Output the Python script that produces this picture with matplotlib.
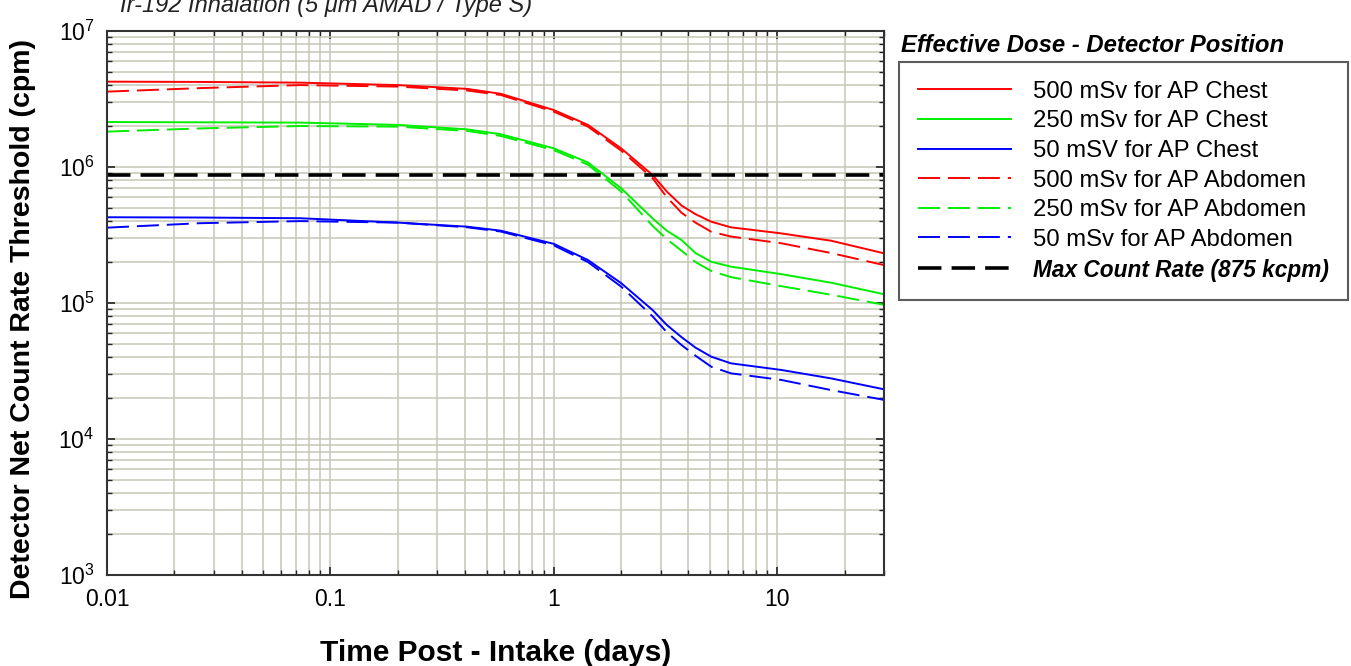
import matplotlib
matplotlib.use("Agg")
import matplotlib.pyplot as plt
from matplotlib.ticker import NullFormatter

plt.rcParams['font.family'] = ['Liberation Sans', 'DejaVu Sans']

# time post-intake (days)
days = [0.01, 0.026, 0.073, 0.2, 0.41, 0.58, 1.0, 1.42, 2.0, 2.76, 3.2, 3.73, 4.3,
        5.06, 6.2, 10.4, 17.4, 30]

# count rate thresholds (cpm)
chest_500 = [4.24e6, 4.22e6, 4.17e6, 4.0e6, 3.75e6, 3.45e6, 2.62e6, 2.04e6, 1.37e6,
             8.75e5, 6.6e5, 5.2e5, 4.5e5, 3.96e5, 3.6e5, 3.25e5, 2.87e5, 2.32e5]
chest_250 = [2.14e6, 2.13e6, 2.12e6, 2.04e6, 1.89e6, 1.74e6, 1.37e6, 1.08e6, 6.97e5,
             4.2e5, 3.4e5, 2.9e5, 2.33e5, 2.01e5, 1.85e5, 1.63e5, 1.41e5, 1.16e5]
chest_50 = [4.27e5, 4.25e5, 4.2e5, 3.9e5, 3.64e5, 3.4e5, 2.72e5, 2.07e5, 1.4e5,
            8.9e4, 6.9e4, 5.6e4, 4.7e4, 4.03e4, 3.6e4, 3.22e4, 2.79e4, 2.32e4]
abd_500 = [3.58e6, 3.8e6, 4.0e6, 3.9e6, 3.65e6, 3.38e6, 2.55e6, 1.98e6, 1.32e6,
           8.3e5, 6.0e5, 4.6e5, 3.9e5, 3.34e5, 3.08e5, 2.75e5, 2.33e5, 1.9e5]
abd_250 = [1.82e6, 1.92e6, 2.0e6, 1.98e6, 1.84e6, 1.69e6, 1.33e6, 1.04e6, 6.6e5,
           3.7e5, 2.95e5, 2.42e5, 2.0e5, 1.72e5, 1.55e5, 1.33e5, 1.15e5, 9.7e4]
abd_50 = [3.58e5, 3.86e5, 4.0e5, 3.9e5, 3.6e5, 3.35e5, 2.65e5, 2.0e5, 1.32e5,
          8.0e4, 6.1e4, 4.9e4, 4.1e4, 3.4e4, 3.04e4, 2.72e4, 2.29e4, 1.94e4]
max_rate = 875e3

labels = ["500 mSv for AP Chest", "250 mSv for AP Chest", "50 mSV for AP Chest",
          "500 mSv for AP Abdomen", "250 mSv for AP Abdomen", "50 mSv for AP Abdomen",
          "Max Count Rate (875 kcpm)"]
xtick_vals = [0.01, 0.1, 1, 10]
xtick_labels = ["0.01", "0.1", "1", "10"]

fig = plt.figure(figsize=(13.51, 6.66), dpi=100)
ax = fig.add_axes([0.0792, 0.1366, 0.5751, 0.8169])

lw = 1.4
dash = (11.3, 4.1)
series = [(chest_500, '#ff0000', '-'), (chest_250, '#00ee00', '-'), (chest_50, '#0000ff', '-'),
          (abd_500, '#ff0000', '--'), (abd_250, '#00ee00', '--'), (abd_50, '#0000ff', '--')]
handles = []
for vals, col, ls in series:
    if ls == '--':
        h, = ax.plot(days, vals, color=col, lw=lw, dashes=dash)
    else:
        h, = ax.plot(days, vals, color=col, lw=lw)
    handles.append(h)
h = ax.axhline(max_rate, color='black', lw=2.6, dashes=(6.5, 2.8))
handles.append(h)

ax.set_xscale('log')
ax.set_yscale('log')
ax.set_xlim(0.01, 30)
ax.set_ylim(1e3, 1e7)
ax.set_xticks(xtick_vals)
ax.set_xticklabels(xtick_labels)
ax.xaxis.set_minor_formatter(NullFormatter())
ax.yaxis.set_minor_formatter(NullFormatter())

ax.grid(True, which='both', color='#c6c6b6', lw=1.1)
ax.set_axisbelow(True)
for sp in ax.spines.values():
    sp.set_color('#333333')
    sp.set_linewidth(1.5)
ax.tick_params(which='both', direction='in', top=True, right=True, color='#222222')
ax.tick_params(which='major', length=6, width=1.2, labelsize=16.5, pad=9)
ax.tick_params(which='minor', length=3.5, width=1.0)

ax.set_xlabel("Time Post - Intake (days)", fontsize=21.5, fontweight='bold')
ax.xaxis.set_label_coords(0.5, -0.118)
ax.set_ylabel("Detector Net Count Rate Threshold (cpm)", fontsize=20.5, fontweight='bold')
ax.yaxis.set_label_coords(-0.091, 0.47)

fig.text(120 / 1351, 1 - 12 / 666, "Ir-192 Inhalation (5 \u03bcm AMAD / Type S)",
         fontsize=17, style='italic', va='baseline', color='#222222')
fig.text(901 / 1351, 1 - 52 / 666, "Effective Dose - Detector Position",
         fontsize=17.2, style='italic', fontweight='bold', va='baseline')

leg = fig.legend(handles, labels, loc='upper left', bbox_to_anchor=(899 / 1351, 1 - 62 / 666),
                 bbox_transform=fig.transFigure, fontsize=17.2, frameon=True, fancybox=False,
                 edgecolor='#333333', handlelength=3.9, handletextpad=0.95, labelspacing=0.32,
                 borderpad=0.78, borderaxespad=0)
leg.get_frame().set_linewidth(1.5)
leg.get_texts()[-1].set_fontweight('bold')
leg.get_texts()[-1].set_fontstyle('italic')
leg.get_texts()[-1].set_fontsize(16.3)

fig.savefig("out.png", dpi=100)
